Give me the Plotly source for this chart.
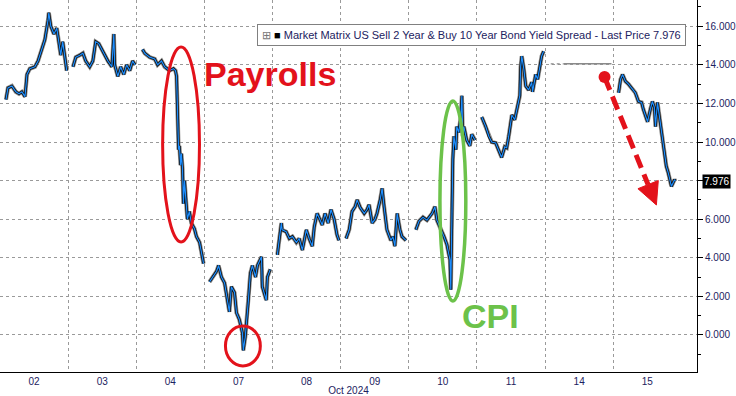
import plotly.graph_objects as go

# ---------------- data ----------------
day_labels = ["02", "03", "04", "07", "08", "09", "10", "11", "14", "15"]

# hour of day (0-24) and spread value (bp) for each trading day
h_02 = [2.1, 2.8, 4.2, 5.6, 6.7, 7.7, 8.8, 9.5, 10.5, 12.3, 13.4, 14.8, 15.8, 16.9, 17.2, 17.9, 19.0, 20.0, 20.7, 21.4, 22.1, 22.8, 23.5]
v_02 = [12.2, 12.8, 12.9, 12.6, 12.5, 12.6, 12.35, 13.5, 13.8, 13.9, 14.2, 14.8, 15.3, 16.3, 16.7, 16.0, 15.6, 15.9, 15.1, 14.5, 15.2, 14.4, 13.7]

h_03 = [1.7, 2.7, 4.1, 5.2, 6.2, 7.6, 8.7, 9.7, 10.8, 11.8, 12.9, 14.0, 15.4, 16.1, 16.4, 17.5, 18.5, 19.6, 20.6, 21.7, 22.7, 23.6]
v_03 = [13.9, 14.4, 14.5, 14.6, 14.2, 13.9, 14.2, 15.2, 15.1, 14.8, 14.5, 14.2, 13.9, 15.6, 14.0, 13.4, 13.9, 13.5, 14.0, 13.7, 14.2, 14.0]

h_04 = [2.2, 3.0, 4.7, 6.5, 7.5, 8.9, 10.0, 11.7, 13.1, 13.8, 14.2, 14.5, 14.9, 15.2, 15.6, 15.9, 16.3, 16.6, 17.0, 17.7, 18.0, 18.7, 19.4, 20.5, 21.2, 22.3, 23.3, 23.7]
v_04 = [14.8, 14.6, 14.4, 14.3, 14.0, 14.2, 13.9, 13.7, 13.8, 13.7, 13.4, 11.7, 9.6, 9.8, 8.8, 9.4, 8.6, 6.8, 8.0, 6.6, 6.0, 6.4, 5.8, 5.5, 5.1, 4.8, 4.0, 3.7]

h_07 = [1.8, 2.8, 4.3, 5.0, 6.0, 7.1, 7.8, 8.8, 9.5, 10.6, 11.3, 12.3, 13.4, 13.7, 14.4, 14.8, 15.5, 16.2, 16.9, 18.0, 18.7, 20.1, 20.4, 21.8, 22.2, 23.2]
v_07 = [2.75, 3.0, 3.3, 3.6, 3.0, 2.7, 2.0, 1.2, 2.5, 2.2, 1.15, 0.8, 0.1, -0.8, -0.1, 0.8, 1.8, 3.2, 3.6, 3.0, 3.6, 4.05, 2.5, 1.8, 3.0, 3.4]

h_08 = [1.7, 3.1, 3.4, 4.8, 5.9, 7.0, 8.4, 9.4, 10.5, 11.9, 12.9, 14.0, 14.7, 15.7, 16.8, 17.5, 18.5, 19.6, 20.6, 21.7, 22.7, 23.4]
v_08 = [4.15, 5.8, 5.45, 5.35, 5.0, 5.1, 4.8, 5.0, 4.4, 5.45, 5.0, 4.6, 5.6, 6.3, 5.95, 5.7, 6.3, 5.8, 6.5, 6.0, 5.2, 4.9]

h_09 = [1.9, 3.0, 4.0, 5.1, 5.8, 6.9, 8.3, 9.3, 10.0, 11.1, 12.1, 12.8, 13.9, 14.6, 15.3, 16.3, 17.7, 18.4, 19.1, 19.9, 20.9, 21.6, 23.0]
v_09 = [5.0, 5.45, 6.4, 6.65, 7.0, 6.6, 6.3, 6.5, 6.75, 5.8, 6.0, 6.3, 7.0, 7.6, 6.65, 5.45, 4.9, 5.1, 4.6, 6.3, 5.45, 5.1, 4.9]

h_10 = [2.5, 3.6, 5.0, 6.4, 8.2, 9.2, 9.9, 11.0, 12.4, 13.4, 14.5, 14.8, 15.2, 15.5, 15.9, 16.6, 16.9, 17.6, 18.3, 18.7, 19.0, 19.4, 20.4, 21.5, 22.2, 23.3]
v_10 = [5.45, 5.9, 6.1, 5.95, 6.3, 6.65, 5.95, 5.6, 5.1, 4.7, 3.9, 2.35, 7.4, 9.1, 10.3, 9.6, 10.8, 10.5, 11.3, 12.4, 10.3, 10.8, 10.1, 9.8, 10.4, 10.1]

h_11 = [1.7, 3.1, 4.2, 5.2, 6.6, 7.7, 8.7, 9.8, 10.5, 11.2, 12.3, 13.3, 14.0, 15.1, 15.4, 15.8, 16.5, 17.2, 18.2, 19.3, 19.6, 20.7, 21.4, 22.1, 22.8, 23.5]
v_11 = [11.3, 10.8, 10.3, 10.0, 9.95, 9.6, 9.2, 9.75, 9.7, 10.3, 11.4, 11.15, 11.7, 12.4, 13.9, 14.45, 13.8, 12.9, 12.7, 13.1, 12.6, 13.5, 13.25, 13.8, 14.45, 14.7]

# day 14: stale flat quote
h_14_dot = [2.0, 6.5]
h_14 = [6.5, 23.4]
v_14 = [14.05, 14.05]

h_15 = [1.9, 2.6, 3.3, 4.3, 5.4, 6.4, 7.8, 8.9, 10.0, 10.6, 11.4, 12.1, 13.1, 13.8, 14.5, 14.9, 15.6, 16.3, 17.0, 17.7, 18.4, 18.7, 19.4, 20.1, 20.5, 21.6, 21.9]
v_15 = [12.55, 13.25, 13.5, 13.15, 13.0, 12.8, 12.55, 12.1, 12.05, 11.7, 11.3, 11.05, 11.7, 12.1, 11.8, 10.8, 12.05, 11.3, 10.5, 9.6, 9.1, 8.75, 8.4, 7.95, 7.7, 8.05, 7.976]

last_price = 7.976
y_ticks = [0, 2, 4, 6, 8, 10, 12, 14, 16]

# ---------------- build ----------------
sessions = [("02", h_02, v_02), ("03", h_03, v_03), ("04", h_04, v_04), ("07", h_07, v_07),
            ("08", h_08, v_08), ("09", h_09, v_09), ("10", h_10, v_10), ("11", h_11, v_11),
            ("15", h_15, v_15)]

xs, ys = [], []
for lab, hh, vv in sessions:
    d = day_labels.index(lab)
    xs += [d + h / 24 for h in hh] + [None]
    ys += list(vv) + [None]

d14 = day_labels.index("14")

fig = go.Figure()
fig.add_trace(go.Scatter(x=xs, y=ys, mode="lines", line=dict(color="#8a8a8a", width=4.2),
                         connectgaps=False, hoverinfo="skip", showlegend=False))
fig.add_trace(go.Scatter(x=xs, y=ys, mode="lines", line=dict(color="#0a0a0a", width=2.6),
                         connectgaps=False, hoverinfo="skip", showlegend=False))
fig.add_trace(go.Scatter(x=xs, y=ys, mode="lines", line=dict(color="#1e8fff", width=1.2),
                         connectgaps=False, showlegend=False))
fig.add_trace(go.Scatter(x=[d14 + h / 24 for h in h_14_dot], y=v_14, mode="lines",
                         line=dict(color="#8a8a8a", width=1.3, dash="dot"), showlegend=False))
fig.add_trace(go.Scatter(x=[d14 + h / 24 for h in h_14], y=v_14, mode="lines",
                         line=dict(color="#8a8a8a", width=1.5), showlegend=False))

RED = "#e3121b"
GREEN = "#6cc24a"
NAVY = "#1c2260"

shapes = [
    # Payrolls ellipse
    dict(type="circle", xref="x", yref="y", x0=2.387, x1=2.928, y0=4.82, y1=14.92,
         line=dict(color=RED, width=3)),
    # low circle
    dict(type="circle", xref="x", yref="y", x0=3.309, x1=3.821, y0=-1.606, y1=0.466,
         line=dict(color=RED, width=3)),
    # CPI ellipse
    dict(type="circle", xref="x", yref="y", x0=6.457, x1=6.837, y0=1.762, y1=12.124,
         line=dict(color=GREEN, width=3.5)),
    # arrow dot
    dict(type="circle", xref="x", yref="y", x0=8.873 - 0.088, x1=8.873 + 0.088,
         y0=13.368 - 0.311, y1=13.368 + 0.311, fillcolor=RED, line=dict(color=RED, width=0)),
    # dashed shaft
    dict(type="line", xref="x", yref="y", x0=8.873, y0=13.368, x1=9.512, y1=7.79,
         line=dict(color=RED, width=5, dash="14px,7px")),
    # arrow head
    dict(type="path", xref="x", yref="y",
         path="M 9.363 7.580 L 9.662 8.005 L 9.634 6.736 Z", fillcolor=RED, line=dict(color=RED, width=1)),
    # price tag pointer
    dict(type="path", xref="x", yref="y",
         path=f"M 10.26 {last_price} L 10.33 {last_price + 0.36} L 10.33 {last_price - 0.36} Z",
         fillcolor="black", line=dict(color="black", width=0)),
]

annotations = [
    dict(text="<b>Payrolls</b>", x=3.968, y=13.52, xref="x", yref="y", showarrow=False,
         font=dict(family="Liberation Sans", size=34, color=RED)),
    dict(text="<b>CPI</b>", x=7.2, y=0.97, xref="x", yref="y", showarrow=False,
         font=dict(family="Liberation Sans", size=34, color=GREEN)),
    dict(text="<span style='color:#777'>⊞</span> <span style='color:#000'>■</span> "
              "Market Matrix US Sell 2 Year &amp; Buy 10 Year Bond Yield Spread - Last Price 7.976",
         x=0.677, y=0.9046, xref="paper", yref="paper", showarrow=False,
         xanchor="center", yanchor="middle", bgcolor="white", bordercolor="#808080",
         borderwidth=1, borderpad=4, font=dict(family="Liberation Sans", size=11, color=NAVY)),
    dict(text=f"{last_price:.3f}", x=1, y=last_price, xref="paper", yref="y", xanchor="left",
         yanchor="middle", xshift=5, showarrow=False, bgcolor="black", borderpad=1,
         font=dict(family="Liberation Sans", size=10, color="white")),
]

fig.update_layout(
    width=736, height=396,
    margin=dict(l=0, r=37, t=0, b=24, pad=0),
    paper_bgcolor="white", plot_bgcolor="white",
    showlegend=False,
    shapes=shapes, annotations=annotations,
    font=dict(family="Liberation Sans", size=10, color=NAVY),
    xaxis=dict(range=[0, 10.23], tickmode="array",
               tickvals=[i + 0.5 for i in range(len(day_labels))], ticktext=day_labels,
               ticks="", showgrid=False, zeroline=False,
               showline=True, linecolor="black", linewidth=1,
               minor=dict(tickmode="array", tickvals=list(range(1, len(day_labels))),
                          showgrid=True, gridcolor="#9a9a9a", griddash="dot", gridwidth=1, ticks=""),
               title=dict(text="Oct 2024", standoff=0, font=dict(size=10, color=NAVY)),
               tickfont=dict(size=10, color=NAVY)),
    yaxis=dict(side="right", range=[-1.92, 17.36], tickmode="array", tickvals=y_ticks,
               ticktext=[f"{v:.3f}" for v in y_ticks],
               ticks="outside", ticklen=5, tickwidth=1, tickcolor="black",
               showgrid=True, gridcolor="#9a9a9a", griddash="dot", gridwidth=1,
               zeroline=False, showline=True, linecolor="black", linewidth=1,
               minor=dict(tickmode="array", tickvals=[-1, 1, 3, 5, 7, 9, 11, 13, 15, 17],
                          ticks="outside", ticklen=3, tickcolor="black", showgrid=False),
               tickfont=dict(size=10, color=NAVY)),
)

fig.write_html("out.html")
